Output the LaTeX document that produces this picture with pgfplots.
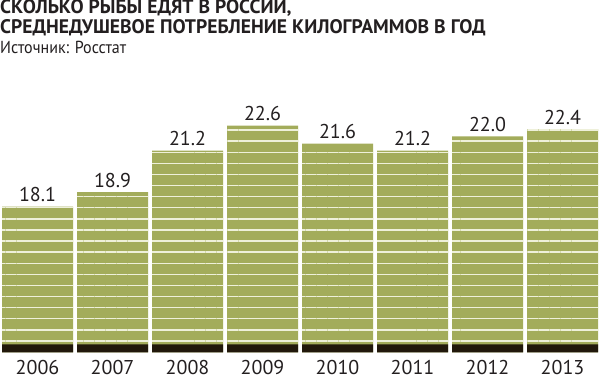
\documentclass[border=0pt]{standalone}
\usepackage{pgfplots}
\pgfplotsset{compat=1.18}
\usepackage{pgfplotstable}
\usetikzlibrary{patterns.meta}
\usepackage{fontspec}
\setmainfont{PT Sans}
\newfontfamily\titlefont{PT Sans Bold}
\newfontfamily\srcfont[FakeStretch=0.92]{PT Sans}
\definecolor{olivebar}{HTML}{A3AC5B}
\definecolor{stripe}{HTML}{EEF0DA}
\definecolor{band}{HTML}{21180B}
\definecolor{txt}{HTML}{231F20}
\pgfplotstableread{
x y
0 18.1
1 18.9
2 21.2
3 22.6
4 21.6
5 21.2
6 22.0
7 22.4
}\fishdata
\begin{document}
\begin{tikzpicture}[x=1pt,y=1pt]
\useasboundingbox (0,0) rectangle (600,377);
\node[anchor=base west, inner sep=0, text=txt, font=\titlefont\fontsize{19.6}{22}\selectfont] at (0,363) {СКОЛЬКО РЫБЫ ЕДЯТ В РОССИИ,};
\node[anchor=base west, inner sep=0, text=txt, font=\titlefont\fontsize{19.6}{22}\selectfont] at (0,343.5) {СРЕДНЕДУШЕВОЕ ПОТРЕБЛЕНИЕ КИЛОГРАММОВ В ГОД};
\node[anchor=base west, inner sep=0, text=txt, font=\srcfont\fontsize{17.4}{20}\selectfont] at (0,323.7) {Источник: Росстат};
\begin{axis}[
  at={(0,13.7)}, anchor=south west,
  scale only axis, width=600pt, height=252pt,
  xmin=-0.5, xmax=7.5, ymin=10, ymax=24,
  axis line style={draw=none},
  major tick length=0pt,
  ytick=\empty,
  xtick={0,...,7},
  xticklabels={2006,2007,2008,2009,2010,2011,2012,2013},
  xticklabel style={anchor=base, inner sep=0pt, yshift=-22pt, text=txt, font=\fontsize{20}{24}\selectfont},
  ybar, bar width=71pt, bar shift=0pt,
]
\addplot[draw=none, fill=olivebar,
  nodes near coords={\pgfmathprintnumber[fixed,fixed zerofill,precision=1,assume math mode=true]{\pgfplotspointmeta}},
  every node near coord/.append style={anchor=base, yshift=5pt, text=txt, font=\fontsize{20}{24}\selectfont},
] table[x=x,y=y] {\fishdata};
\addplot[draw=none, pattern={Lines[angle=0, distance=11.1pt, line width=1.4pt, yshift=2.7pt]}, pattern color=stripe] table[x=x,y=y] {\fishdata};
\addplot[draw=none, fill=band] table[x=x,y expr=10.44] {\fishdata};
\end{axis}
\end{tikzpicture}
\end{document}
